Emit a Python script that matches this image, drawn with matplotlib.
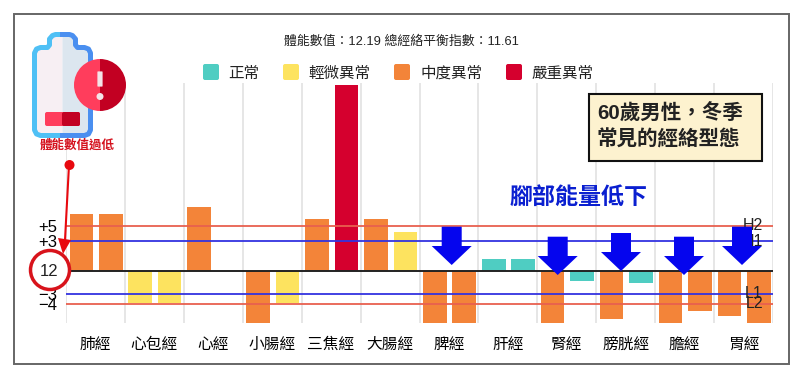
##meridian balance bar chart with annotations
import numpy as np
import matplotlib
matplotlib.use('Agg')
import matplotlib.pyplot as plt
from matplotlib.patches import Circle, FancyBboxPatch, Polygon, Rectangle, Wedge

plt.rcParams['font.family'] = ['Liberation Sans', 'Noto Sans CJK TC', 'DejaVu Sans']

categories = ['肺經', '心包經', '心經', '小腸經', '三焦經', '大腸經',
              '脾經', '肝經', '腎經', '膀胱經', '膽經', '胃經']
##heights, the axis is not linear in its own labels
left_vals = [5.7, -3.2, 6.4, -5.2, 5.2, 5.2, -5.2, 1.2, -5.2, -4.8, -5.2, -4.5]
right_vals = [5.7, -3.2, 0, -3.2, 18.6, 3.9, -5.2, 1.2, -1.0, -1.2, -4.0, -5.2]
left_level = ['mid', 'low', 'mid', 'mid', 'mid', 'mid', 'mid', 'ok', 'mid', 'mid', 'mid', 'mid']
right_level = ['mid', 'low', 'mid', 'low', 'high', 'low', 'mid', 'ok', 'ok', 'ok', 'mid', 'mid']

level_colors = {'ok': '#4fcdc2', 'low': '#fde35f', 'mid': '#f38439', 'high': '#d5002e'}
legend_names = ['正常', '輕微異常', '中度異常', '嚴重異常']
legend_keys = ['ok', 'low', 'mid', 'high']

ref_vals = [4.5, 3.0, -2.3, -3.3]
ref_colors = ['#e8604f', '#3333e0', '#3333e0', '#e8604f']
ref_left = ['+5', '+3', '−3', '−4']
ref_right = ['H2', 'H1', 'L1', 'L2']
base_label = '12'

W, H = 800, 376
fig = plt.figure(figsize=(W/100, H/100), dpi=100)

##main chart axes, placed in pixels
x0, x1, y_top, y_bot = 66, 773, 83, 323
ax = fig.add_axes([x0/W, 1-y_bot/H, (x1-x0)/W, (y_bot-y_top)/H])
pos = np.arange(len(categories))
ax.bar(pos+0.26, left_vals, width=0.4, color=[level_colors[k] for k in left_level], zorder=2)
ax.bar(pos+0.76, right_vals, width=0.4, color=[level_colors[k] for k in right_level], zorder=2)
ax.set_xlim(0, len(categories))
ax.set_ylim(-5.2, 18.8)

for v, c in zip(ref_vals, ref_colors):
    ax.axhline(v, color=c, lw=1.3, zorder=3)
ax.axhline(0, color='#222222', lw=1.4, zorder=4)

ax.set_xticks(pos+0.5)
ax.set_xticklabels(categories, fontsize=11.3)
ax.set_xticks(np.arange(len(categories)+1), minor=True)
ax.grid(True, which='minor', axis='x', color='#e2e2e2', lw=1.2, zorder=0)
ax.tick_params(axis='x', which='both', length=0, pad=10)
ax.set_yticks(ref_vals)
ax.set_yticklabels(ref_left, fontsize=12)
ax.tick_params(axis='y', length=0, pad=6)
for s in ax.spines.values():
    s.set_visible(False)
for v, t in zip(ref_vals, ref_right):
    ax.text(11.83, v, t, ha='right', va='center', fontsize=11.5, color='#222222', zorder=6)

##overlay in pixel coords for the hand drawn annotations
ov = fig.add_axes([0, 0, 1, 1], facecolor='none')
ov.set_xlim(0, W)
ov.set_ylim(H, 0)
ov.axis('off')

##outer frame
ov.add_patch(Rectangle((13.5, 14), 775, 350, fill=False, ec='#666666', lw=1.4))

ov.text(401, 42, '體能數值：12.19 總經絡平衡指數：11.61', ha='center', va='center',
        fontsize=9.3, color='#222222')

##legend
swatch_x = [203, 283, 394, 506]
label_x = [228, 308, 420, 531]
for sx, lx, name, key in zip(swatch_x, label_x, legend_names, legend_keys):
    ov.add_patch(FancyBboxPatch((sx+2, 66), 12, 12, boxstyle='round,pad=2',
                                fc=level_colors[key], ec='none'))
    ov.text(lx, 73, name, ha='left', va='center', fontsize=11.2, color='#222222')

##battery icon, outline goes from the top centre down one side, then mirrored
half_dx = np.array([0, -7, -10, -13, -13, -15, -22, -26, -28, -28, -26, -22, 0])
half_y = np.array([34.5, 34.5, 35.5, 39, 45, 47.5, 47.5, 49, 53, 130, 134, 135.5, 135.5])
mid_x = 62.5
ov.fill(mid_x+half_dx, half_y, fc='#f7eff3', ec='none', zorder=2)
ov.fill(mid_x-half_dx, half_y, fc='#dce6ef', ec='none', zorder=2)
ov.plot(mid_x+half_dx, half_y, color='#4fc0f5', lw=3.6, solid_joinstyle='round', zorder=3)
ov.plot(mid_x-half_dx, half_y, color='#4a8ff0', lw=3.6, solid_joinstyle='round', zorder=3)
ov.add_patch(FancyBboxPatch((47, 114), 31, 10, boxstyle='round,pad=2', fc='#ff3d5c', ec='none', zorder=5))
ov.add_patch(FancyBboxPatch((64, 114), 14, 10, boxstyle='round,pad=2', fc='#c20022', ec='none', zorder=6))
ov.add_patch(Wedge((100, 85), 26, 90, 270, fc='#ff3d5c', ec='none', zorder=7))
ov.add_patch(Wedge((100, 85), 26, 270, 90, fc='#c20022', ec='none', zorder=7))
ov.add_patch(FancyBboxPatch((98, 72), 4, 14, boxstyle='round,pad=0.6', fc='#f4e4e8', ec='none', zorder=8))
ov.add_patch(Circle((100, 96.5), 3.5, fc='#f4e4e8', ec='none', zorder=8))
ov.text(77.5, 146, '體能數值過低', ha='center', va='center', fontsize=9,
        color='#d5121e', fontweight='bold')

##red pointer and circled base value
ov.add_patch(Circle((69.5, 165), 5, fc='#e8090f', ec='none'))
ov.plot([69, 65], [165, 240], color='#e8090f', lw=1.5)
ov.add_patch(Polygon([[58, 238], [71, 240], [63, 254]], fc='#e8090f', ec='none'))
ov.add_patch(Circle((50, 270), 19.5, fc='white', ec='#d8131b', lw=2.5, zorder=8))
ov.text(49, 271, base_label, ha='center', va='center', fontsize=12, color='#222222', zorder=9)

##callout box
ov.add_patch(Rectangle((589, 93.5), 173, 67.5, fc='#fdf2cf', ec='#111111', lw=1.5, zorder=5))
ov.text(597, 114, '60歲男性，冬季', ha='left', va='center', fontsize=14.8,
        fontweight='bold', color='#222222', zorder=6)
ov.text(597, 140, '常見的經絡型態', ha='left', va='center', fontsize=14.8,
        fontweight='bold', color='#222222', zorder=6)

ov.text(579, 197, '腳部能量低下', ha='center', va='center', fontsize=16.6,
        fontweight='bold', color='#0a1fd0')

##blue down arrows
arrow_x = [451.7, 557.7, 621, 684, 742]
arrow_top = [226.7, 236.7, 233, 236.7, 226.7]
arrow_tip = [265, 275, 271, 275, 265]
for a_x, t, b in zip(arrow_x, arrow_top, arrow_tip):
    neck = b-19
    ov.add_patch(Polygon([[a_x-10, t], [a_x+10, t], [a_x+10, neck], [a_x+20, neck],
                          [a_x, b], [a_x-20, neck], [a_x-10, neck]],
                         fc='#0505ee', ec='none', zorder=7))

fig.savefig('out.png', dpi=100, facecolor='white')
